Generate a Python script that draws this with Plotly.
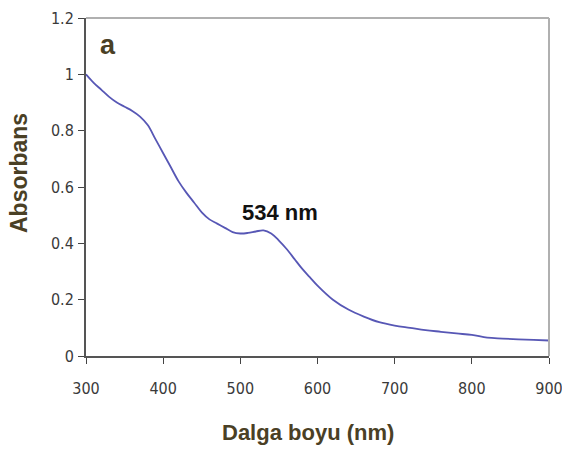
import plotly.graph_objects as go

wavelength = [300, 310, 320, 330, 340, 350, 360, 370, 380, 390, 400, 410, 420, 430, 440,
              450, 460, 470, 480, 490, 500, 510, 520, 530, 540, 550, 560, 570, 580, 590,
              600, 620, 640, 660, 680, 700, 720, 740, 760, 780, 800, 820, 840, 860, 880, 900]
absorbance = [1.0, 0.97, 0.945, 0.92, 0.9, 0.885, 0.87, 0.85, 0.82, 0.77, 0.72, 0.67, 0.62,
              0.58, 0.545, 0.51, 0.485, 0.47, 0.455, 0.44, 0.435, 0.437, 0.442, 0.446, 0.435,
              0.41, 0.38, 0.345, 0.31, 0.28, 0.25, 0.2, 0.165, 0.14, 0.12, 0.108, 0.1, 0.092,
              0.086, 0.08, 0.075, 0.065, 0.062, 0.059, 0.057, 0.055]
x_ticks = [300, 400, 500, 600, 700, 800, 900]
y_ticks = [0, 0.2, 0.4, 0.6, 0.8, 1.0, 1.2]
y_tick_labels = ["0", "0.2", "0.4", "0.6", "0.8", "1", "1.2"]

brown = "#4a4025"
tickfont = dict(family="DejaVu Sans Condensed, Liberation Sans Narrow, Arial Narrow",
                size=16, color="#3a3a3a")

fig = go.Figure()
fig.add_trace(go.Scatter(x=wavelength, y=absorbance, mode="lines",
                         line=dict(color="#5757b5", width=1.8, shape="spline"),
                         showlegend=False))

fig.update_layout(
    width=562, height=450,
    margin=dict(l=86, r=13, t=18, b=94),
    paper_bgcolor="white", plot_bgcolor="white",
    xaxis=dict(range=[300, 900], tickvals=x_ticks, ticks="outside", ticklen=6,
               tickcolor="#444", showline=True, linecolor="#555", linewidth=2,
               showgrid=False, zeroline=False, tickfont=tickfont, automargin=False,
               ticklabelstandoff=11, ticklabeloverflow="allow"),
    yaxis=dict(range=[0, 1.2], tickvals=y_ticks, ticktext=y_tick_labels, ticks="outside",
               ticklen=6, tickcolor="#444", showline=True, linecolor="#555", linewidth=2,
               showgrid=False, zeroline=False, tickfont=tickfont, automargin=False,
               ticklabelstandoff=1, ticklabeloverflow="allow"),
    shapes=[
        dict(type="line", xref="paper", yref="paper", x0=0, x1=1, y0=1, y1=1,
             line=dict(color="#b0b0b0", width=2)),
        dict(type="line", xref="paper", yref="paper", x0=1, x1=1, y0=0, y1=1,
             line=dict(color="#b0b0b0", width=2)),
    ],
    annotations=[
        dict(x=0.479, y=-0.225, xref="paper", yref="paper", text="<b>Dalga boyu (nm)</b>",
             showarrow=False, xanchor="center", yanchor="middle",
             font=dict(family="Liberation Sans, Arial", size=22, color=brown)),
        dict(x=-0.145, y=0.541, xref="paper", yref="paper", text="<b>Absorbans</b>",
             showarrow=False, xanchor="center", yanchor="middle", textangle=-90,
             font=dict(family="Liberation Sans, Arial", size=23, color=brown)),
        dict(x=551, y=0.51, xref="x", yref="y", text="<b>534 nm</b>", showarrow=False,
             xanchor="center", yanchor="middle",
             font=dict(family="Liberation Sans, Arial", size=22, color="#111")),
        dict(x=0.048, y=0.92, xref="paper", yref="paper", text="<b>a</b>", showarrow=False,
             xanchor="center", yanchor="middle",
             font=dict(family="Liberation Sans, Arial", size=27, color=brown)),
    ],
)

fig.write_html("out.html")
